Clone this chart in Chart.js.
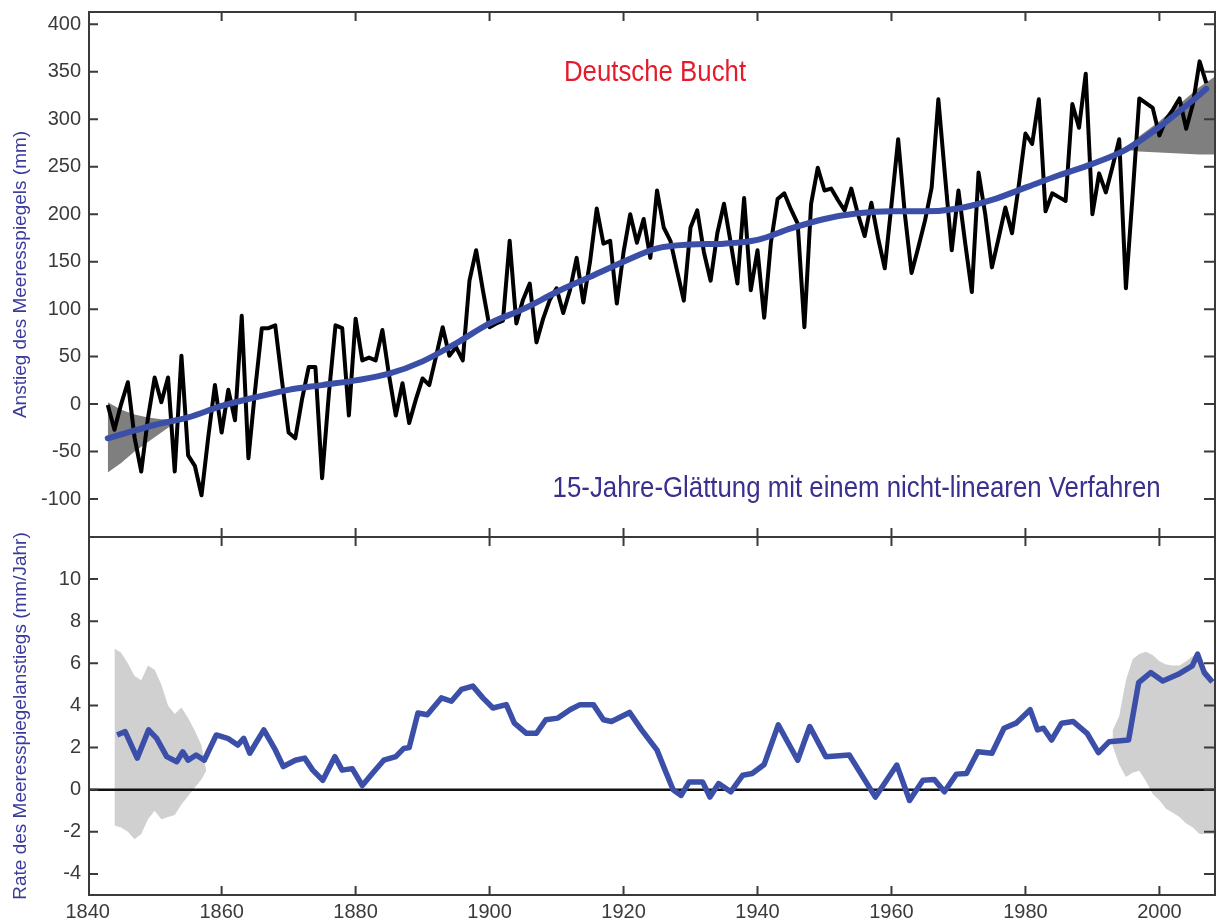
<!DOCTYPE html>
<html>
<head>
<meta charset="utf-8">
<script src="https://cdn.jsdelivr.net/npm/chart.js@4.4.1/dist/chart.umd.min.js"></script>
<style>
  body { margin: 0; background: #fff; }
  #wrap { position: relative; width: 1230px; height: 920px; }
  #levelChart { position: absolute; left: 0; top: 0; }
  #rateChart { position: absolute; left: 0; top: 530px; }
</style>
</head>
<body>
<div id="wrap">
  <canvas id="levelChart" width="1230" height="540"></canvas>
  <canvas id="rateChart" width="1230" height="390"></canvas>
</div>
<script>
// annual mean sea level, Deutsche Bucht (mm), 1843..2007
var firstYear = 1843;
var levelMm = [
  -1, -27, 0, 23, -35, -71, -15, 28, 2, 28,
  -71, 51, -54, -65, -96, -35, 20, -30, 15, -17,
  93, -57, 15, 80, 80, 83, 25, -30, -36, 5,
  39, 39, -78, 10, 83, 80, -12, 90, 46, 49,
  46, 78, 30, -12, 22, -20, 5, 27, 20, 50,
  81, 51, 60, 46, 130, 162, 120, 81, 85, 88,
  172, 85, 110, 127, 65, 90, 110, 122, 96, 120,
  154, 107, 150, 206, 169, 172, 106, 160, 200, 170,
  195, 154, 225, 186, 172, 140, 109, 186, 204, 160,
  130, 180, 211, 170, 127, 217, 120, 162, 91, 170,
  216, 222, 205, 190, 81, 211, 249, 225, 227, 215,
  204, 227, 200, 177, 212, 175, 143, 210, 279, 200,
  138, 165, 193, 228, 321, 240, 162, 225, 170, 118,
  244, 200, 144, 175, 207, 180, 230, 285, 274, 321,
  203, 222, 218, 214, 316, 291, 348, 200, 243, 223,
  250, 279, 122, 220, 322, 317, 312, 283, 300, 310,
  322, 290, 316, 361, 338
];

// 15-year non-linear smoothing (mm)
var smoothYears = [1843, 1845, 1850, 1855, 1860, 1865, 1870, 1875, 1880, 1885, 1890, 1895, 1900, 1905, 1910, 1915, 1920, 1925,
  1930, 1935, 1940, 1945, 1950, 1955, 1960, 1965, 1970, 1975, 1980, 1985, 1990, 1995, 2000, 2005, 2007];
var smoothMm = [-36, -32, -22, -14, -2, 7, 15, 20, 25, 32, 45, 64, 85, 100, 118, 134, 150, 164,
  168, 169, 173, 185, 195, 201, 203, 203, 206, 215, 228, 241, 253, 268, 292, 320, 332];

// uncertainty of the smoothing at the ends (mm)
var startBandYears = [1843, 1845, 1847, 1849, 1851, 1853];
var startBandLow = [-72, -62, -50, -40, -30, -20];
var startBandHigh = [2, -6, -11, -14, -16, -16];
var endBandYears = [1995, 1997, 2000, 2003, 2006, 2008.3];
var endBandLow = [268, 266, 265, 264, 263, 263];
var endBandHigh = [270, 282, 298, 316, 334, 345];

// rate of sea level rise (mm/Jahr)
var rateYears = [1844.4, 1845.6, 1847.4, 1849.1, 1850.3, 1851.8, 1853.3, 1854.2, 1855, 1856.2, 1857.4, 1859.2, 1860.9,
  1862.4, 1863.3, 1864.2, 1866.3, 1868, 1869.2, 1871, 1872.4, 1873.6, 1875.1, 1876.9, 1878, 1879.5, 1881, 1882.5,
  1884.2, 1886, 1887.2, 1888, 1889.3, 1890.7, 1892.8, 1894.3, 1895.8, 1897.5, 1899, 1900.5, 1902.5, 1903.7, 1905.5,
  1907, 1908.4, 1910.2, 1912, 1913.5, 1915.5, 1917, 1918.2, 1920.9, 1922.7, 1925, 1926.2, 1927.4, 1928.6, 1929.8,
  1931.8, 1932.9, 1934.2, 1936, 1937.8, 1939.2, 1941, 1943.1, 1946, 1947.8, 1950.2, 1953.7, 1957.6, 1960.8, 1962.7,
  1964.7, 1966.4, 1967.9, 1969.7, 1971.2, 1972.9, 1975, 1976.8, 1978.6, 1980.7, 1981.8, 1982.7, 1983.9, 1985.4,
  1987.1, 1989.2, 1990.9, 1992.5, 1995.4, 1996.9, 1998.7, 2000.5, 2002.8, 2004.9, 2005.7, 2006.7, 2007.9];
var rateValues = [2.6, 2.76, 1.5, 2.84, 2.44, 1.57, 1.33, 1.8, 1.4, 1.65, 1.4, 2.6, 2.44,
  2.12, 2.44, 1.73, 2.84, 1.9, 1.1, 1.4, 1.5, 0.93, 0.45, 1.57, 0.93, 1.0, 0.2, 0.77,
  1.4, 1.57, 1.96, 2.0, 3.64, 3.56, 4.36, 4.2, 4.76, 4.92, 4.36, 3.88, 4.04, 3.16, 2.68,
  2.68, 3.32, 3.4, 3.8, 4.04, 4.04, 3.32, 3.24, 3.67, 2.84, 1.88, 0.93, 0, -0.27, 0.37,
  0.37, -0.35, 0.29, -0.1, 0.69, 0.77, 1.2, 3.08, 1.4, 3.0, 1.57, 1.65, -0.35, 1.17, -0.51,
  0.45, 0.48, -0.1, 0.74, 0.77, 1.8, 1.73, 2.92, 3.16, 3.8, 2.84, 2.92, 2.36, 3.16,
  3.24, 2.68, 1.76, 2.28, 2.36, 5.08, 5.56, 5.16, 5.48, 5.88, 6.44, 5.56, 5.11];

var rateStartYears = [1844, 1845, 1846, 1847, 1848, 1849, 1850, 1851, 1852, 1853, 1854, 1855, 1856, 1857, 1857.7];
var rateStartHigh = [6.7, 6.5, 6.0, 5.4, 5.2, 5.9, 5.7, 5.0, 4.0, 3.6, 3.9, 3.4, 2.8, 2.1, 0.9];
var rateStartLow = [-1.7, -1.8, -2.0, -2.35, -2.1, -1.4, -1.0, -1.4, -1.3, -1.2, -0.7, -0.3, 0.1, 0.5, 0.9];
var rateEndYears = [1993, 1994, 1995, 1996, 1997, 1998, 1999, 2000, 2001, 2002, 2003, 2004, 2005, 2006, 2007, 2008.3];
var rateEndHigh = [2.8, 3.5, 5.2, 6.2, 6.45, 6.55, 6.4, 6.1, 5.95, 5.9, 5.9, 6.1, 6.35, 6.2, 5.7, 5.2];
var rateEndLow = [2.1, 1.2, 0.6, 0.8, 0.9, 0.4, -0.2, -0.5, -0.9, -1.1, -1.3, -1.6, -1.8, -2.1, -2.1, -2.1];

var yearTicks = [1840, 1860, 1880, 1900, 1920, 1940, 1960, 1980, 2000];
var levelTicks = [-100, -50, 0, 50, 100, 150, 200, 250, 300, 350, 400];
var rateTicks = [-4, -2, 0, 2, 4, 6, 8, 10];

function pts(xs, ys) {
  return ys.map(function (v, i) { return { x: xs[i], y: v }; });
}
var levelYears = levelMm.map(function (v, i) { return firstYear + i; });

Chart.defaults.font.family = '"Liberation Sans", Arial, sans-serif';
Chart.defaults.color = '#333';

var BLUE = '#3b4fa8';
var DARK_GREY = '#7f7f7f';
var LIGHT_GREY = '#d0d0d0';

// frame, inward tick marks, zero line and the two captions
var framePlugin = {
  id: 'frame',
  beforeDatasetDraw: function (chart, args, opts) {
    if (!opts.zeroLine || args.index !== 0) return;
    var ctx = chart.ctx, a = chart.chartArea, py = chart.scales.y.getPixelForValue(0);
    ctx.save();
    ctx.strokeStyle = '#111';
    ctx.lineWidth = 2.5;
    ctx.beginPath();
    ctx.moveTo(a.left, py);
    ctx.lineTo(a.right, py);
    ctx.stroke();
    ctx.restore();
  },
  afterDraw: function (chart, args, opts) {
    var ctx = chart.ctx, a = chart.chartArea;
    var xs = chart.scales.x, ys = chart.scales.y;
    ctx.save();
    ctx.strokeStyle = '#3a3a3a';
    ctx.lineWidth = 2;
    ctx.strokeRect(a.left, a.top, a.right - a.left, a.bottom - a.top);
    ctx.beginPath();
    opts.xTicks.forEach(function (v) {
      var px = xs.getPixelForValue(v);
      if (px <= a.left + 2) return;
      ctx.moveTo(px, a.top); ctx.lineTo(px, a.top + 9);
      ctx.moveTo(px, a.bottom); ctx.lineTo(px, a.bottom - 9);
    });
    opts.yTicks.forEach(function (v) {
      var py = ys.getPixelForValue(v);
      ctx.moveTo(a.left, py); ctx.lineTo(a.left + 9, py);
      ctx.moveTo(a.right, py); ctx.lineTo(a.right - 11, py);
    });
    ctx.stroke();
    (opts.captions || []).forEach(function (c) {
      ctx.save();
      ctx.font = c.font;
      ctx.fillStyle = c.color;
      ctx.textAlign = 'center';
      ctx.textBaseline = 'middle';
      ctx.translate(xs.getPixelForValue(c.x), ys.getPixelForValue(c.y));
      ctx.scale(c.stretch, 1);
      ctx.fillText(c.text, 0, 0);
      ctx.restore();
    });
    ctx.restore();
  }
};

function yAxis(title, ticks, min, max) {
  return {
    type: 'linear', min: min, max: max,
    afterBuildTicks: function (s) { s.ticks = ticks.map(function (v) { return { value: v }; }); },
    afterFit: function (s) { s.width = 89; s.paddingTop = 0; s.paddingBottom = 0; },
    grid: { display: false, drawTicks: false },
    border: { display: false },
    ticks: { padding: 8, color: '#3a3a3a', font: { size: 20 } },
    title: { display: true, text: title, color: '#3a3a9a', font: { size: 19 }, padding: { top: 9, bottom: 0 } }
  };
}

function band(xs, lo, hi, colour) {
  return [
    { data: pts(xs, lo), borderWidth: 0, pointRadius: 0, fill: false },
    { data: pts(xs, hi), borderWidth: 0, pointRadius: 0, fill: '-1', backgroundColor: colour }
  ];
}

new Chart(document.getElementById('levelChart').getContext('2d'), {
  type: 'line',
  data: {
    datasets: [
      { data: pts(smoothYears, smoothMm), borderColor: BLUE, borderWidth: 6, pointRadius: 0, tension: 0.4, cubicInterpolationMode: 'monotone', borderCapStyle: 'round' },
      { data: pts(levelYears, levelMm), borderColor: '#000', borderWidth: 4, pointRadius: 0, borderJoinStyle: 'round' }
    ].concat(band(startBandYears, startBandLow, startBandHigh, DARK_GREY))
     .concat(band(endBandYears, endBandLow, endBandHigh, DARK_GREY))
  },
  options: {
    responsive: false,
    animation: false,
    layout: { padding: { top: 12, right: 15, bottom: 3, left: 0 } },
    scales: {
      x: { type: 'linear', min: 1840.2, max: 2008.3, display: false },
      y: yAxis('Anstieg des Meeresspiegels (mm)', levelTicks, -140, 413)
    },
    plugins: {
      legend: { display: false },
      tooltip: { enabled: false },
      frame: {
        xTicks: yearTicks, yTicks: levelTicks,
        captions: [
          { text: 'Deutsche Bucht', x: 1924.7, y: 349, stretch: 0.86, color: '#e51b2b', font: '30px "Liberation Sans", sans-serif' },
          { text: '15-Jahre-Glättung mit einem nicht-linearen Verfahren', x: 1954.8, y: -89, stretch: 0.86, color: '#3a2e8e', font: '30px "Liberation Sans", sans-serif' }
        ]
      }
    }
  },
  plugins: [framePlugin]
});

new Chart(document.getElementById('rateChart').getContext('2d'), {
  type: 'line',
  data: {
    datasets: [
      { data: pts(rateYears, rateValues), borderColor: BLUE, borderWidth: 5.5, pointRadius: 0, borderJoinStyle: 'round' }
    ].concat(band(rateStartYears, rateStartLow, rateStartHigh, LIGHT_GREY))
     .concat(band(rateEndYears, rateEndLow, rateEndHigh, LIGHT_GREY))
  },
  options: {
    responsive: false,
    animation: false,
    layout: { padding: { top: 7, right: 15, bottom: 0, left: 0 } },
    scales: {
      x: {
        type: 'linear', min: 1840.2, max: 2008.3,
        afterBuildTicks: function (s) { s.ticks = yearTicks.map(function (v) { return { value: v }; }); },
        afterFit: function (s) { s.height = 25; s.paddingLeft = 0; s.paddingRight = 0; },
        grid: { display: false, drawTicks: false },
        border: { display: false },
        ticks: { padding: 5, color: '#3a3a3a', font: { size: 20 }, maxRotation: 0, callback: function (v) { return String(v); } }
      },
      y: yAxis('Rate des Meeresspiegelanstiegs (mm/Jahr)', rateTicks, -5, 12)
    },
    plugins: {
      legend: { display: false },
      tooltip: { enabled: false },
      frame: { xTicks: yearTicks, yTicks: rateTicks, zeroLine: true }
    }
  },
  plugins: [framePlugin]
});
</script>
</body>
</html>
